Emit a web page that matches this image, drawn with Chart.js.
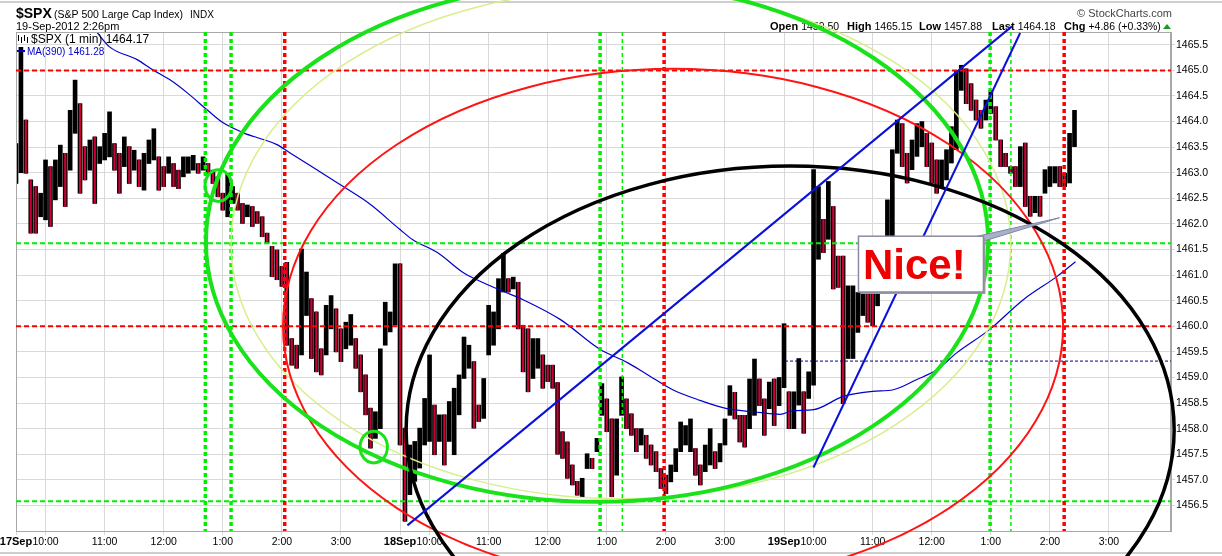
<!DOCTYPE html>
<html>
<head>
<meta charset="utf-8">
<title>$SPX 1 min</title>
<script src="https://cdn.jsdelivr.net/npm/chart.js@4.4.0/dist/chart.umd.min.js"></script>
<style>
  html, body { margin: 0; padding: 0; background: #fff; }
  canvas { display: block; }
</style>
</head>
<body>
<canvas id="spx" width="1222" height="556"></canvas>
<script>
// ---- price data: 5-minute low/high samples ----
const dayOpenMinute = [0, 390, 780];
const dayNames = ["17Sep", "18Sep", "19Sep"];
const sampleStep = 5;

const day1Low = [1462.79,1463.00,1462.99,1461.82,1461.82,1462.14,1462.08,1461.95,1462.47,1462.73,
  1462.34,1463.05,1463.77,1462.60,1462.86,1463.05,1462.40,1463.18,1463.25,1463.31,
  1463.05,1462.60,1463.12,1462.79,1463.05,1462.73,1462.66,1463.18,1463.25,1462.66,
  1462.73,1462.99,1462.73,1462.69,1462.92,1462.99,1463.05,1462.99,1463.05,1462.99,
  1462.79,1462.53,1462.27,1462.14,1462.40,1462.27,1462.01,1462.14,1461.95,1462.01,
  1461.75,1461.62,1460.97,1460.91,1460.78,1459.63,1459.24,1459.18,1459.44,1460.21,
  1459.37,1459.11,1459.05,1459.44,1459.95,1459.50,1459.31,1459.56,1459.63,1459.18,
  1458.72,1458.27,1457.62,1457.81,1458.00,1459.63,1459.89,1460.02];
const day1High = [1463.57,1465.45,1464.03,1462.86,1462.73,1462.60,1463.25,1463.12,1463.25,1463.54,
  1463.38,1464.22,1464.81,1464.35,1463.51,1463.64,1463.70,1463.51,1463.77,1464.19,
  1463.57,1463.38,1463.70,1463.51,1463.44,1463.25,1463.38,1463.64,1463.86,1463.31,
  1463.12,1463.31,1463.18,1463.05,1463.31,1463.31,1463.34,1463.18,1463.31,1463.18,
  1463.05,1462.92,1462.60,1462.99,1462.73,1462.60,1462.40,1462.37,1462.34,1462.24,
  1462.14,1461.82,1461.56,1461.49,1461.17,1461.25,1459.76,1459.63,1461.51,1461.06,
  1460.54,1460.28,1459.56,1460.41,1460.60,1460.34,1459.95,1460.08,1460.23,1459.76,
  1459.44,1459.05,1458.40,1458.33,1459.56,1460.47,1460.28,1461.22];

const day2Low = [1457.68,1456.19,1456.71,1456.97,1457.23,1457.68,1457.75,1457.49,1457.75,1457.29,
  1457.75,1457.49,1458.27,1458.98,1459.18,1458.01,1458.14,1458.20,1459.44,1459.63,
  1459.95,1460.67,1460.67,1460.73,1459.95,1459.11,1458.72,1458.98,1459.18,1458.79,
  1458.92,1458.79,1457.50,1457.42,1457.03,1456.90,1456.70,1456.67,1457.22,1457.22,
  1457.55,1458.26,1457.94,1456.67,1457.09,1458.26,1458.00,1457.87,1457.55,1457.68,
  1457.42,1457.29,1457.16,1456.83,1456.73,1456.96,1457.16,1457.55,1457.68,1457.55,
  1457.09,1456.90,1457.16,1457.29,1457.22,1457.35,1457.68,1458.26,1458.19,1457.74,
  1457.64,1458.00,1458.26,1458.45,1457.87,1458.39,1458.06,1458.45];
const day2High = [1461.22,1458.01,1457.68,1457.75,1458.01,1458.59,1459.44,1458.46,1458.27,1458.27,
  1458.53,1458.79,1459.05,1459.79,1459.63,1459.31,1458.46,1458.98,1460.41,1460.28,
  1460.93,1461.42,1460.93,1460.96,1460.86,1460.02,1459.95,1459.76,1459.76,1459.44,
  1459.24,1459.24,1458.90,1457.94,1457.74,1457.29,1456.97,1457.03,1457.51,1457.42,
  1457.81,1458.88,1458.58,1458.19,1458.19,1459.01,1458.58,1458.29,1458.00,1458.00,
  1457.87,1457.68,1457.55,1457.22,1457.09,1457.29,1457.61,1458.13,1458.06,1458.19,
  1457.61,1457.29,1457.68,1458.00,1457.55,1457.71,1458.19,1458.84,1458.71,1458.26,
  1458.26,1458.97,1459.36,1458.97,1458.58,1458.91,1458.97,1459.00];

const day3Low = [1458.80,1458.00,1458.00,1458.46,1457.91,1458.59,1458.85,1461.31,1461.44,1461.70,
  1460.73,1460.76,1458.49,1459.37,1459.37,1459.88,1460.21,1460.08,1460.01,1460.40,
  1460.66,1461.05,1461.70,1463.38,1463.12,1462.80,1463.06,1463.32,1463.51,1463.12,
  1462.80,1462.60,1462.73,1462.86,1463.19,1463.45,1464.61,1464.35,1464.22,1464.03,
  1463.87,1464.03,1464.16,1463.64,1463.12,1463.12,1462.99,1462.73,1462.73,1462.34,
  1462.15,1462.22,1462.15,1462.60,1462.73,1462.80,1462.73,1462.73,1462.80,1463.51];
const day3High = [1460.05,1458.72,1458.72,1459.37,1458.72,1459.11,1463.06,1462.73,1462.09,1462.83,
  1462.34,1461.37,1461.37,1460.79,1460.79,1460.66,1461.05,1460.92,1460.85,1460.92,
  1461.44,1462.47,1463.45,1464.03,1463.96,1463.38,1463.64,1463.96,1464.00,1463.77,
  1463.58,1463.25,1463.25,1463.45,1463.90,1465.00,1465.10,1465.03,1464.74,1464.42,
  1464.22,1464.42,1464.61,1464.29,1463.64,1463.38,1463.12,1463.12,1463.51,1463.58,
  1462.54,1462.54,1462.54,1463.06,1463.12,1463.12,1463.12,1462.99,1463.77,1464.22];

// MA(390)
const maMinute = [82,95,123,139,156,174,194,210,231,251,265,278,329,360,390,403,428,454,468,495,
  515,553,593,621,641,667,692,722,749,776,789,810,840,870,891,915,935,956,989,1023,1057,1076];
const maValue = [1465.75,1465.46,1465.21,1465.01,1464.82,1464.56,1464.23,1463.98,1463.78,1463.65,
  1463.55,1463.39,1462.77,1462.38,1461.89,1461.69,1461.44,1461.05,1460.91,1460.68,
  1460.52,1460.13,1459.55,1459.29,1459.06,1458.76,1458.57,1458.39,1458.33,1458.28,
  1458.35,1458.37,1458.63,1458.73,1458.76,1458.96,1459.15,1459.49,1459.94,1460.52,1460.97,1461.26];

// axes
const xTickMinute = [0,30,90,150,210,270,330,390,420,480,540,600,660,720,780,810,870,930,990,1050,1110];
const xTickLabel = ["","10:00","11:00","12:00","1:00","2:00","3:00","","10:00","11:00","12:00","1:00","2:00","3:00",
  "","10:00","11:00","12:00","1:00","2:00","3:00"];
const yTickValue = [1456.5,1457,1457.5,1458,1458.5,1459,1459.5,1460,1460.5,1461,1461.5,1462,
  1462.5,1463,1463.5,1464,1464.5,1465,1465.5];

// drawn-on annotations, in minutes / index points
const redLevels = [1465.0, 1460.0];
const greenLevels = [1461.62, 1456.58];
const prevClose = 1459.32;
const prevCloseFrom = 781;
const greenThickMinutes = [192.3, 218.4, 593.2, 989.3];
const greenThinMinutes = [615.8, 1010.4];
const redMinutes = [272.9, 658.2, 1064.5];

const ellipseMinute = [614.3, 667.3, 590.1, 786.2];
const ellipsePrice = [1461.61, 1460.0, 1461.65, 1457.98];
const ellipseHalfMinutes = [395.9, 396.1, 397.2, 390.0];
const ellipseHalfPoints = [4.98, 5.03, 5.08, 5.15];

const trendFromMinute = [397.5, 809.9];
const trendFromPrice = [1456.11, 1457.24];
const trendToMinute = [1011.4, 1019.8];
const trendToPrice = [1465.86, 1465.73];

const circleMinute = [205.5, 363.3];
const circlePrice = [1462.75, 1457.64];
const circleHalfMinutes = [13.5, 13.9];
const circleHalfPoints = [0.31, 0.31];

const calloutMinutes = [855.6, 982.5];
const calloutPrices = [1461.76, 1460.67];
const calloutTip = [1059.7, 1462.12];
const calloutText = "Nice!";

// ---- build bar points ----
const lows = [day1Low, day2Low, day3Low];
const highs = [day1High, day2High, day3High];
const allBars = [];
const downBars = [];
let prevMid = null;
lows.forEach((dayLows, d) => {
  dayLows.forEach((lo, i) => {
    const hi = highs[d][i];
    const pt = { x: dayOpenMinute[d] + i * sampleStep, y: [lo, hi] };
    const mid = (lo + hi) / 2;
    allBars.push(pt);
    if (prevMid !== null && mid < prevMid) downBars.push(pt);
    prevMid = mid;
  });
});

const FONT = '"Liberation Sans", Arial, sans-serif';
const ellipseStyle = [
  { color: "#d6ef8c", width: 1.5 },
  { color: "#ff1414", width: 2 },
  { color: "#1ae21a", width: 4 },
  { color: "#000000", width: 3.5 },
];

function dashedLine(ctx, x1, y1, x2, y2, color, width, dash) {
  ctx.save();
  ctx.strokeStyle = color;
  ctx.lineWidth = width;
  ctx.setLineDash(dash);
  ctx.beginPath();
  ctx.moveTo(x1, y1);
  ctx.lineTo(x2, y2);
  ctx.stroke();
  ctx.restore();
}

const pageDecor = {
  id: "pageDecor",
  beforeDraw(chart) {
    const { ctx, chartArea: a } = chart;
    ctx.save();
    ctx.strokeStyle = "#cfcfcf";
    ctx.lineWidth = 2;
    ctx.beginPath();
    ctx.moveTo(0, 2); ctx.lineTo(chart.width, 2);
    ctx.moveTo(0, 553); ctx.lineTo(chart.width, 553);
    ctx.stroke();

    ctx.fillStyle = "#000";
    ctx.textBaseline = "alphabetic";
    ctx.font = "bold 14px " + FONT;
    ctx.fillText("$SPX", a.left, 18);
    ctx.font = "10.5px " + FONT;
    ctx.fillText("(S&P 500 Large Cap Index)", a.left + 38, 18);
    ctx.font = "10px " + FONT;
    ctx.fillText("INDX", a.left + 174, 18);
    ctx.font = "11px " + FONT;
    ctx.fillText("19-Sep-2012 2:26pm", a.left, 29.5);

    ctx.fillStyle = "#444";
    ctx.textAlign = "right";
    ctx.fillText("\u00A9 StockCharts.com", a.right + 1, 17);
    ctx.textAlign = "left";

    const quote = [["Open", "1459.50"], ["High", "1465.15"], ["Low", "1457.88"], ["Last", "1464.18"], ["Chg", "+4.86 (+0.33%)"]];
    const starts = [770, 847, 919, 992, 1064];
    quote.forEach((q, i) => {
      ctx.fillStyle = "#000";
      ctx.font = "bold 11px " + FONT;
      ctx.fillText(q[0], starts[i], 29.5);
      const w = ctx.measureText(q[0] + " ").width;
      ctx.font = "10.5px " + FONT;
      ctx.fillText(q[1], starts[i] + w, 29.5);
    });
    ctx.fillStyle = "#1a9a1a";
    ctx.beginPath();
    ctx.moveTo(1163, 29); ctx.lineTo(1171, 29); ctx.lineTo(1167, 24);
    ctx.closePath(); ctx.fill();
    ctx.restore();
  },
  afterDatasetsDraw(chart) {
    const { ctx, chartArea: a, scales: { x } } = chart;
    ctx.save();
    ctx.strokeStyle = "#a8a8a8";
    ctx.lineWidth = 1;
    ctx.strokeRect(a.left + 0.5, a.top + 0.5, a.right - a.left - 1, a.bottom - a.top);

    // legend
    ctx.strokeStyle = "#000";
    ctx.lineWidth = 1;
    ctx.beginPath();
    [2, 5, 8, 11].forEach((dx, k) => {
      ctx.moveTo(a.left + dx + 0.5, a.top + 3 + (k % 2) * 2);
      ctx.lineTo(a.left + dx + 0.5, a.top + 11 - ((k + 1) % 2) * 2);
    });
    ctx.stroke();
    ctx.fillStyle = "#000";
    ctx.font = "12px " + FONT;
    ctx.fillText("$SPX (1 min) 1464.17", a.left + 15, a.top + 11);
    ctx.fillStyle = "#0000cc";
    ctx.fillRect(a.left + 1, a.top + 18, 8, 2);
    ctx.font = "10px " + FONT;
    ctx.fillText("MA(390) 1461.28", a.left + 11, a.top + 23);

    // bold day names under the day boundaries
    ctx.fillStyle = "#000";
    ctx.font = "bold 11px " + FONT;
    ctx.textAlign = "center";
    ctx.textBaseline = "top";
    dayOpenMinute.forEach((m, d) => {
      ctx.fillText(dayNames[d], x.getPixelForValue(m), a.bottom + 5);
    });
    ctx.restore();
  }
};

const annotate = {
  id: "annotate",
  afterDraw(chart) {
    const { ctx, chartArea: a, scales: { x, y } } = chart;
    const X = (v) => x.getPixelForValue(v);
    const Y = (v) => y.getPixelForValue(v);
    ctx.save();

    redLevels.forEach((p) => dashedLine(ctx, a.left, Y(p), a.right, Y(p), "#ff0000", 2, [5, 3]));
    greenLevels.forEach((p) => dashedLine(ctx, a.left, Y(p), a.right, Y(p), "#00ee00", 2, [5, 3]));
    dashedLine(ctx, X(prevCloseFrom), Y(prevClose), a.right, Y(prevClose), "#000080", 1, [3, 2]);
    greenThickMinutes.forEach((m) => dashedLine(ctx, X(m), a.top, X(m), a.bottom, "#00ee00", 3.5, [4, 3]));
    greenThinMinutes.forEach((m) => dashedLine(ctx, X(m), a.top, X(m), a.bottom, "#00ee00", 1.5, [4, 3]));
    redMinutes.forEach((m) => dashedLine(ctx, X(m), a.top, X(m), a.bottom, "#ff0000", 3.5, [4, 3]));

    ellipseMinute.forEach((m, i) => {
      const cx = X(m), cy = Y(ellipsePrice[i]);
      const rx = X(m + ellipseHalfMinutes[i]) - cx;
      const ry = cy - Y(ellipsePrice[i] + ellipseHalfPoints[i]);
      ctx.strokeStyle = ellipseStyle[i].color;
      ctx.lineWidth = ellipseStyle[i].width;
      ctx.beginPath();
      ctx.ellipse(cx, cy, rx, ry, 0, 0, Math.PI * 2);
      ctx.stroke();
    });

    ctx.strokeStyle = "#0a10d8";
    ctx.lineWidth = 2;
    trendFromMinute.forEach((m, i) => {
      ctx.beginPath();
      ctx.moveTo(X(m), Y(trendFromPrice[i]));
      ctx.lineTo(X(trendToMinute[i]), Y(trendToPrice[i]));
      ctx.stroke();
    });

    ctx.strokeStyle = "#1ae21a";
    ctx.lineWidth = 3;
    circleMinute.forEach((m, i) => {
      const cx = X(m), cy = Y(circlePrice[i]);
      ctx.beginPath();
      ctx.ellipse(cx, cy, X(m + circleHalfMinutes[i]) - cx, cy - Y(circlePrice[i] + circleHalfPoints[i]), 0, 0, Math.PI * 2);
      ctx.stroke();
    });

    // callout
    const bx1 = X(calloutMinutes[0]), bx2 = X(calloutMinutes[1]);
    const by1 = Y(calloutPrices[0]), by2 = Y(calloutPrices[1]);
    const tx = X(calloutTip[0]), ty = Y(calloutTip[1]);
    ctx.fillStyle = "#a9b1c9";
    ctx.strokeStyle = "#7c86a6";
    ctx.lineWidth = 1;
    ctx.beginPath();
    ctx.moveTo(bx2 - 6, by1);
    ctx.lineTo(tx, ty);
    ctx.lineTo(bx2, by1 + 5);
    ctx.closePath();
    ctx.fill();
    ctx.stroke();
    ctx.fillStyle = "#9a9a9a";
    ctx.fillRect(bx1 + 2, by1 + 2, bx2 - bx1, by2 - by1);
    ctx.fillStyle = "#ffffff";
    ctx.fillRect(bx1, by1, bx2 - bx1, by2 - by1);
    ctx.strokeStyle = "#8a8aa2";
    ctx.lineWidth = 1.5;
    ctx.strokeRect(bx1, by1, bx2 - bx1, by2 - by1);
    ctx.fillStyle = "#ee0000";
    ctx.font = "bold 42px " + FONT;
    ctx.textBaseline = "alphabetic";
    ctx.fillText(calloutText, bx1 + 4.5, by2 - 13);

    ctx.restore();
  }
};

new Chart(document.getElementById("spx"), {
  type: "bar",
  data: {
    datasets: [
      {
        type: "line",
        label: "MA(390)",
        data: maMinute.map((m, i) => ({ x: m, y: maValue[i] })),
        borderColor: "#0000cc",
        borderWidth: 1.2,
        pointRadius: 0,
        cubicInterpolationMode: "monotone",
        order: 0,
      },
      {
        label: "down ticks",
        data: downBars,
        backgroundColor: "#cc0033",
        barThickness: 1.5,
        grouped: false,
        order: 1,
      },
      {
        label: "$SPX",
        data: allBars,
        backgroundColor: "#000000",
        barThickness: 4,
        grouped: false,
        order: 2,
      },
    ],
  },
  options: {
    responsive: false,
    animation: false,
    events: [],
    layout: { padding: { left: 16, top: 32, right: 0, bottom: 0 } },
    plugins: { legend: { display: false }, tooltip: { enabled: false } },
    scales: {
      x: {
        type: "linear",
        min: 0,
        max: 1173,
        offset: false,
        afterBuildTicks: (s) => { s.ticks = xTickMinute.map((v) => ({ value: v })); },
        afterFit: (s) => { s.height = 25; },
        grid: { color: "#d9d9d9", tickLength: 4, offset: false },
        border: { color: "#a8a8a8" },
        ticks: {
          autoSkip: false,
          maxRotation: 0,
          padding: 1,
          color: "#000",
          font: { family: FONT, size: 10.5 },
          callback: (v, i) => xTickLabel[i],
        },
      },
      y: {
        position: "right",
        min: 1456.0,
        max: 1465.75,
        afterBuildTicks: (s) => { s.ticks = yTickValue.map((v) => ({ value: v })); },
        afterFit: (s) => { s.width = 51; },
        grid: { color: "#d9d9d9", tickLength: 4 },
        border: { color: "#a8a8a8" },
        ticks: {
          padding: 1,
          color: "#000",
          font: { family: FONT, size: 10.5 },
          callback: (v) => Number(v).toFixed(1),
        },
      },
    },
  },
  plugins: [pageDecor, annotate],
});
</script>
</body>
</html>
